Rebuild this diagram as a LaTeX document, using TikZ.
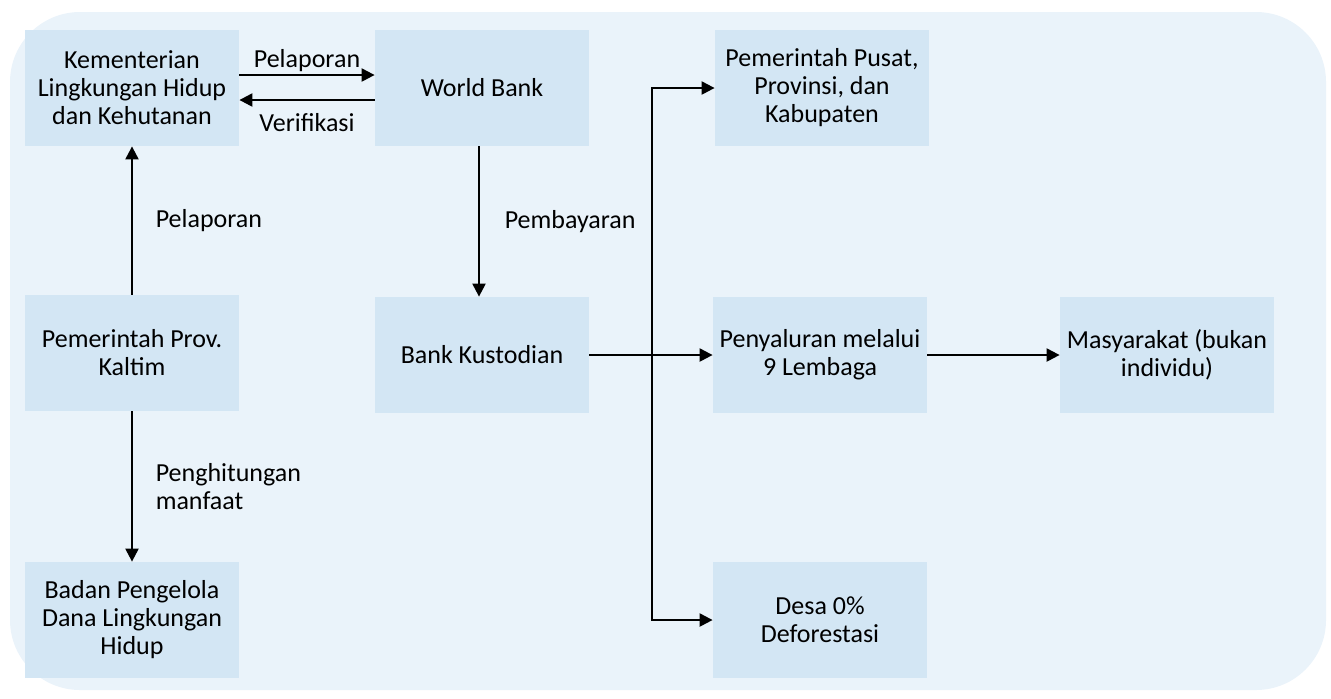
\documentclass[tikz,border=0pt]{standalone}
\usepackage{fontspec}
\setmainfont{Carlito}
\usepackage{xcolor}
\usepackage{tikz}
\usetikzlibrary{arrows.meta}

\definecolor{panelbg}{HTML}{EAF3FA}
\definecolor{boxfill}{HTML}{D3E6F4}

\tikzset{
  blok/.style={fill=boxfill, minimum width=107pt, minimum height=58pt, align=center,
    font=\fontsize{13}{14}\selectfont, inner sep=2pt},
  panah/.style={line width=1.1pt, -{Triangle[length=6.5pt,width=6.5pt]}},
  ket/.style={font=\fontsize{13}{14}\selectfont, align=left}
}

\begin{document}
\begin{tikzpicture}[x=0.5pt,y=-0.5pt]
\useasboundingbox (0,0) rectangle (1331,698);
\fill[panelbg, rounded corners=35pt] (10,12) rectangle (1326,690);
% kotak
\node[blok] (klhk) at (132,88) {Kementerian\\Lingkungan Hidup\\dan Kehutanan};
\node[blok] (wb) at (482,88) {World Bank};
\node[blok] (pusat) at (822,88) {Pemerintah Pusat,\\Provinsi, dan\\Kabupaten};
\node[blok] (prov) at (132,353) {Pemerintah Prov.\\Kaltim};
\node[blok] (bank) at (482,355) {Bank Kustodian};
\node[blok] (salur) at (820,355) {Penyaluran melalui\\9 Lembaga};
\node[blok] (masy) at (1167,355) {Masyarakat (bukan\\individu)};
\node[blok] (badan) at (132,620) {Badan Pengelola\\Dana Lingkungan\\Hidup};
\node[blok] (desa) at (820,620) {Desa 0\%\\Deforestasi};
% panah
\draw[panah] ([yshift=6.5pt]klhk.east) -- ([yshift=6.5pt]wb.west)
  node[midway, above, inner sep=1pt, ket] {Pelaporan};
\draw[panah] ([yshift=-6pt]wb.west) -- ([yshift=-6pt]klhk.east)
  node[midway, below=3pt, ket] {Verifikasi};
\draw[panah] (prov.north) -- (klhk.south)
  node[midway, right=8pt, ket] {Pelaporan};
\draw[panah] (prov.south) -- (badan.north)
  node[midway, right=8pt, ket] {Penghitungan\\manfaat};
\draw[panah] ([xshift=-1.5pt]wb.south) -- ([xshift=-1.5pt]bank.north)
  node[midway, right=9pt, ket] {Pembayaran};
\coordinate (cabang) at (652,355);
\draw[panah] (bank.east) -- (salur.west);
\draw[panah] (cabang) |- (pusat.west);
\draw[panah] (cabang) |- (desa.west);
\draw[panah] (salur.east) -- (masy.west);
\end{tikzpicture}
\end{document}
